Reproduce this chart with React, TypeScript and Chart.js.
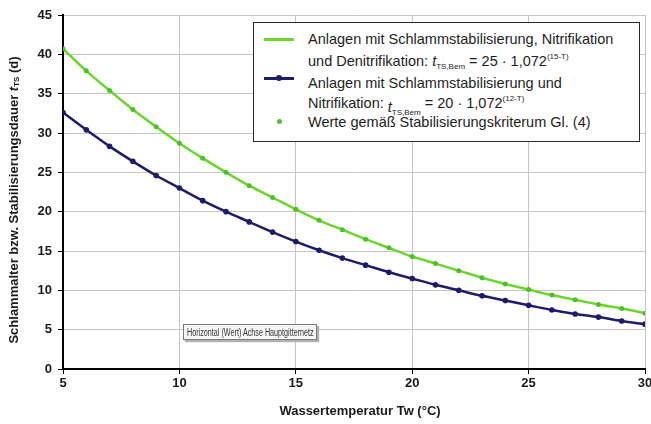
import React, { useEffect, useRef } from "react";
import { Chart, registerables } from "chart.js";

Chart.register(...registerables);

// Water temperature (°C)
const temperatures = [5, 6, 7, 8, 9, 10, 11, 12, 13, 14, 15, 16, 17, 18, 19, 20, 21, 22, 23, 24, 25, 26, 27, 28, 29, 30];
// Nitrification + denitrification (green line)
const denitrificationValues = [40.7, 37.9, 35.4, 33.0, 30.8, 28.7, 26.8, 25.0, 23.3, 21.8, 20.3, 18.9, 17.7, 16.5, 15.4, 14.3, 13.4, 12.5, 11.6, 10.8, 10.1, 9.4, 8.8, 8.2, 7.7, 7.1];
// Nitrification only (navy line)
const nitrificationValues = [32.6, 30.4, 28.3, 26.4, 24.6, 23.0, 21.4, 20.0, 18.7, 17.4, 16.2, 15.1, 14.1, 13.2, 12.3, 11.5, 10.7, 10.0, 9.3, 8.7, 8.1, 7.5, 7.0, 6.6, 6.1, 5.7];
// Values according to stabilisation criterion (green dots)
const criterionValues = [40.7, 37.9, 35.4, 33.0, 30.8, 28.7, 26.8, 25.0, 23.3, 21.8, 20.3, 18.9, 17.7, 16.5, 15.4, 14.3, 13.4, 12.5, 11.6, 10.8, 10.1, 9.4, 8.8, 8.2, 7.7, 7.1];

const xTicks = [5, 10, 15, 20, 25, 30];
const yTicks = [0, 5, 10, 15, 20, 25, 30, 35, 40, 45];

const GREEN = "#6ad62e";
const GREEN_DOT = "#4fbf2a";
const NAVY = "#1c1c6b";
const FONT = "'Liberation Sans', Arial, sans-serif";

const titlePlugin = {
  id: "customTitles",
  afterDraw(chart: any) {
    const ctx = chart.ctx as CanvasRenderingContext2D;
    const area = chart.chartArea;
    ctx.save();
    ctx.fillStyle = "#1a1a1a";
    // x-axis title
    ctx.font = `bold 13px ${FONT}`;
    ctx.textAlign = "center";
    ctx.textBaseline = "middle";
    ctx.fillText("Wassertemperatur Tw (°C)", (area.left + area.right) / 2 + 6, 411);

    // y-axis title with subscript
    const parts = [
      { t: "Schlammalter bzw. Stabilisierungsdauer ", f: `bold 13px ${FONT}`, dy: 0 },
      { t: "t", f: `italic bold 13px ${FONT}`, dy: 0 },
      { t: "TS", f: `bold 8px ${FONT}`, dy: 3 },
      { t: " (d)", f: `bold 13px ${FONT}`, dy: 0 },
    ];
    let total = 0;
    const widths = parts.map((p) => {
      ctx.font = p.f;
      const w = ctx.measureText(p.t).width;
      total += w;
      return w;
    });
    ctx.translate(14, (area.top + area.bottom) / 2 + 8);
    ctx.rotate(-Math.PI / 2);
    ctx.textAlign = "left";
    let x = -total / 2;
    parts.forEach((p, i) => {
      ctx.font = p.f;
      ctx.fillText(p.t, x, p.dy);
      x += widths[i];
    });
    ctx.restore();
  },
};

export default function App() {
  const canvasRef = useRef<HTMLCanvasElement | null>(null);

  useEffect(() => {
    document.body.style.margin = "0";
    const canvas = canvasRef.current;
    if (!canvas) return;
    const chart = new Chart(canvas, {
      type: "line",
      data: {
        datasets: [
          {
            label: "Werte gemäß Stabilisierungskriterum Gl. (4)",
            data: temperatures.map((t, i) => ({ x: t, y: criterionValues[i] })),
            showLine: false,
            pointRadius: 2.5,
            pointBackgroundColor: GREEN_DOT,
            pointBorderColor: GREEN_DOT,
            pointBorderWidth: 0,
            order: 0,
          },
          {
            label: "Nitrifikation und Denitrifikation",
            data: temperatures.map((t, i) => ({ x: t, y: denitrificationValues[i] })),
            borderColor: GREEN,
            borderWidth: 2.5,
            pointRadius: 0,
            cubicInterpolationMode: "monotone",
            order: 1,
          },
          {
            label: "Nitrifikation",
            data: temperatures.map((t, i) => ({ x: t, y: nitrificationValues[i] })),
            borderColor: NAVY,
            borderWidth: 2.5,
            pointRadius: 2.8,
            pointBackgroundColor: NAVY,
            pointBorderColor: NAVY,
            pointBorderWidth: 0,
            cubicInterpolationMode: "monotone",
            order: 2,
          },
        ],
      },
      options: {
        responsive: false,
        animation: false,
        layout: { padding: { left: 0, top: 15, right: 6, bottom: 0 } },
        plugins: {
          legend: { display: false },
          tooltip: { enabled: false },
          title: { display: false },
        },
        scales: {
          x: {
            type: "linear",
            min: 5,
            max: 30,
            afterBuildTicks: (scale: any) => {
              scale.ticks = xTicks.map((v) => ({ value: v }));
            },
            afterFit: (scale: any) => {
              scale.height = 55;
              scale.paddingLeft = 0;
              scale.paddingRight = 0;
            },
            ticks: {
              font: { family: FONT, size: 13, weight: "bold" },
              color: "#1a1a1a",
              padding: 2,
              maxRotation: 0,
            },
            grid: {
              color: "#c4c4c4",
              lineWidth: 1,
              tickLength: 5,
              tickColor: "#000",
            },
            border: { color: "#000", width: 2 },
          },
          y: {
            type: "linear",
            min: 0,
            max: 45,
            afterBuildTicks: (scale: any) => {
              scale.ticks = yTicks.map((v) => ({ value: v }));
            },
            afterFit: (scale: any) => {
              scale.width = 63;
              scale.paddingTop = 0;
              scale.paddingBottom = 0;
            },
            ticks: {
              font: { family: FONT, size: 13, weight: "bold" },
              color: "#1a1a1a",
              padding: 6,
            },
            grid: {
              color: "#c4c4c4",
              lineWidth: 1,
              tickLength: 5,
              tickColor: "#000",
            },
            border: { color: "#000", width: 2 },
          },
        },
      },
      plugins: [titlePlugin],
    } as any);
    return () => chart.destroy();
  }, []);

  const textStyle: React.CSSProperties = {
    position: "absolute",
    left: 54,
    height: 18,
    lineHeight: "18px",
    whiteSpace: "nowrap",
    fontFamily: FONT,
    fontSize: 14.5,
    color: "#1e1e1e",
  };
  const small: React.CSSProperties = { fontSize: 8, verticalAlign: "baseline", position: "relative" };

  return (
    <div style={{ position: "absolute", left: 0, top: 0, width: 651, height: 424, background: "#fff" }}>
      <canvas ref={canvasRef} width={651} height={424} style={{ display: "block" }} />
      {/* legend */}
      <div
        style={{
          position: "absolute",
          left: 253,
          top: 22,
          width: 387,
          height: 120,
          border: "1px solid #2a2a2a",
          background: "#fff",
          boxSizing: "border-box",
        }}
      >
        <div style={{ position: "absolute", left: 10, top: 15, width: 30, height: 2.5, background: GREEN }} />
        <div style={{ position: "absolute", left: 10, top: 54, width: 30, height: 2.5, background: NAVY }} />
        <div style={{ position: "absolute", left: 22, top: 52, width: 6, height: 6, borderRadius: 3, background: NAVY }} />
        <div style={{ position: "absolute", left: 23, top: 96, width: 5, height: 5, borderRadius: 3, background: GREEN_DOT }} />
        <div style={{ ...textStyle, top: 7 }}>Anlagen mit Schlammstabilisierung, Nitrifikation</div>
        <div style={{ ...textStyle, top: 29 }}>
          und Denitrifikation: <i>t</i>
          <span style={{ ...small, top: 3 }}>TS,Bem</span> = 25 · 1,072
          <span style={{ ...small, top: -7 }}>(15-T)</span>
        </div>
        <div style={{ ...textStyle, top: 51 }}>Anlagen mit Schlammstabilisierung und</div>
        <div style={{ ...textStyle, top: 71 }}>
          Nitrifikation: <span style={{ position: "relative", top: 4 }}><i>t</i>
          <span style={{ ...small, top: 3 }}>TS,Bem</span></span> = 20 · 1,072
          <span style={{ ...small, top: -7 }}>(12-T)</span>
        </div>
        <div style={{ ...textStyle, top: 90 }}>Werte gemäß Stabilisierungskriterum Gl. (4)</div>
      </div>
      {/* hover hint box */}
      <div
        style={{
          position: "absolute",
          left: 183,
          top: 324,
          width: 134,
          height: 16,
          border: "1px solid #7a7a7a",
          background: "#f6f6f6",
          boxShadow: "2px 2px 1px #b0b0b0",
          boxSizing: "border-box",
          overflow: "hidden",
        }}
      >
        <span
          style={{
            position: "absolute",
            left: 3,
            top: 1,
            fontFamily: FONT,
            fontSize: 10,
            lineHeight: "13px",
            color: "#333",
            whiteSpace: "nowrap",
            transform: "scaleX(0.72)",
            transformOrigin: "left center",
          }}
        >
          Horizontal (Wert) Achse Hauptgitternetz
        </span>
      </div>
    </div>
  );
}
